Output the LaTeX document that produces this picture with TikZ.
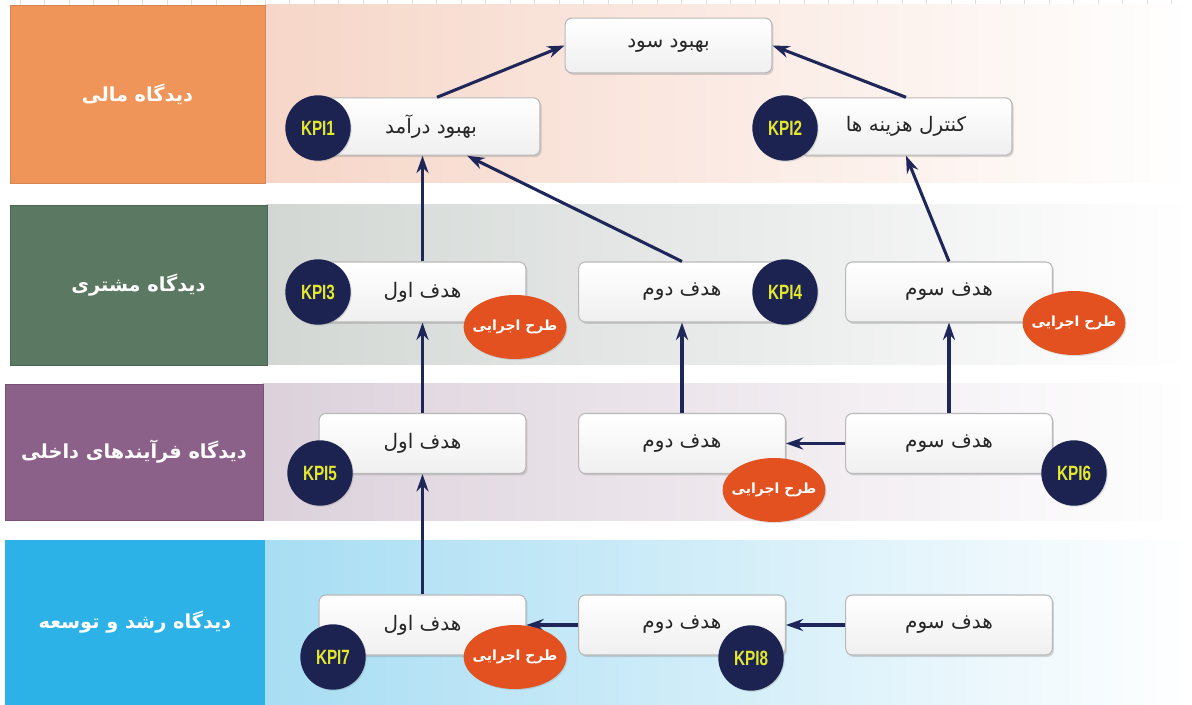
\documentclass[tikz,border=0pt]{standalone}
\usepackage{fontspec}
\usepackage{graphicx}
\usetikzlibrary{shadows,arrows.meta,shapes.geometric}
\TeXXeTstate=1
\setmainfont{Liberation Sans}
\newfontfamily\fa[Script=Arabic]{DejaVu Sans}
\newcommand{\fatxt}[1]{\beginR #1\endR}
\newcommand{\kpitxt}[1]{\scalebox{0.74}[1]{#1}}
\definecolor{navy}{HTML}{1C2351}
\definecolor{arrowc}{HTML}{1F275A}
\definecolor{kpiy}{HTML}{E4E82C}
\definecolor{planc}{HTML}{E2511F}
\definecolor{finL}{HTML}{F0955A}
\definecolor{finB}{HTML}{F6D6C8}
\definecolor{cusL}{HTML}{5B7862}
\definecolor{cusB}{HTML}{D2D7D4}
\definecolor{intL}{HTML}{8C6189}
\definecolor{intB}{HTML}{DCD1DB}
\definecolor{lrnL}{HTML}{2DB2E8}
\definecolor{lrnB}{HTML}{A7DDF3}
\tikzset{
  goal/.style={draw=gray!55, line width=0.8pt, rounded corners=5pt,
    top color=white, bottom color=gray!12, minimum width=155pt, minimum height=45pt,
    font=\fa\fontsize{15}{17}\selectfont, text=black!85,
    drop shadow={shadow xshift=1.2pt, shadow yshift=-1.5pt, opacity=0.3}},
  kpi/.style={circle, fill=navy, minimum size=49pt, inner sep=0pt, text=kpiy,
    font=\bfseries\fontsize{15.5}{15.5}\selectfont,
    drop shadow={shadow xshift=0.8pt, shadow yshift=-0.8pt, opacity=0.25}},
  plan/.style={ellipse, fill=planc, minimum width=77pt, minimum height=48pt,
    inner xsep=-12pt, inner ysep=0pt,
    text=white, font=\fa\bfseries\fontsize{10.5}{12}\selectfont,
    drop shadow={shadow xshift=0.8pt, shadow yshift=-0.8pt, opacity=0.25}},
  labbox/.style={rectangle, inner sep=0pt, text=white,
    font=\fa\bfseries\fontsize{14.5}{17}\selectfont},
  arr/.style={draw=arrowc, line width=2.3pt, -{Stealth[length=13pt,width=9pt]}}
}
\begin{document}
\begin{tikzpicture}[x=0.75pt, y=-0.75pt]
\useasboundingbox (0,0) rectangle (1192,705);
\fill[white] (0,0) rectangle (1192,705);
% faint grid ticks at top
\foreach \x in {20,44.5,...,1192} \draw[gray!25, line width=0.4pt] (\x,0) -- (\x,5);
% band backgrounds
\shade[left color=finB, right color=white] (265,5) rectangle (1192,183);
\shade[left color=cusB, right color=white] (266,205) rectangle (1192,365);
\shade[left color=intB, right color=white] (262,384) rectangle (1192,520);
\shade[left color=lrnB, right color=white] (264,540) rectangle (1192,705);
% perspective label boxes
\node[labbox, fill=finL, draw=finL!90!black, minimum width=191.25pt, minimum height=133.5pt] (Lfin) at (137.5,94) {\fatxt{دیدگاه مالی}};
\node[labbox, fill=cusL, draw=cusL!85!black, minimum width=192.75pt, minimum height=120pt] (Lcus) at (138.5,285) {\fatxt{دیدگاه مشتری}};
\node[labbox, fill=intL, draw=intL!85!black, minimum width=193.5pt, minimum height=102pt] (Lint) at (134,452) {\fatxt{دیدگاه فرآیندهای داخلی}};
\node[labbox, fill=lrnL, minimum width=195pt, minimum height=123.75pt] (Llrn) at (135,622.5) {\fatxt{دیدگاه رشد و توسعه}};
% goal boxes
\node[goal, minimum width=155pt, minimum height=41pt] (sood) at (668.5,45.5) {\fatxt{بهبود سود}};
\node[goal, minimum width=163.5pt, minimum height=43pt] (income) at (431,126.5) {\fatxt{بهبود درآمد}};
\node[goal, minimum width=159pt, minimum height=43pt] (cost) at (906,126.5) {\fatxt{کنترل هزینه ها}};
\node[goal] (c1) at (422.5,292) {\fatxt{هدف اول}};
\node[goal] (c2) at (682,292) {\fatxt{هدف دوم}};
\node[goal] (c3) at (949,292) {\fatxt{هدف سوم}};
\node[goal] (i1) at (422.5,443.5) {\fatxt{هدف اول}};
\node[goal] (i2) at (682,443.5) {\fatxt{هدف دوم}};
\node[goal] (i3) at (949,443.5) {\fatxt{هدف سوم}};
\node[goal] (l1) at (422.5,625) {\fatxt{هدف اول}};
\node[goal] (l2) at (682,625) {\fatxt{هدف دوم}};
\node[goal] (l3) at (949,625) {\fatxt{هدف سوم}};
% connectors
\draw[arr] ([xshift=4.5pt]income.north) -- (sood.west);
\draw[arr] (cost.north) -- (sood.east);
\draw[arr] (c1.north) -- (c1.north |- income.south);
\draw[arr] (c2.north) -- ([xshift=27pt]income.south);
\draw[arr] (c3.north) -- (cost.south);
\draw[arr] (i1.north) -- (c1.south);
\draw[arr] (i2.north) -- (c2.south);
\draw[arr] (i3.north) -- (c3.south);
\draw[arr] (i3.west) -- (i2.east);
\draw[arr] (l1.north) -- (i1.south);
\draw[arr] (l2.west) -- (l1.east);
\draw[arr] (l3.west) -- (l2.east);
% KPI circles
\node[kpi] (k1) at (318,128) {\kpitxt{KPI1}};
\node[kpi] (k2) at (785,128) {\kpitxt{KPI2}};
\node[kpi] (k3) at (318,292) {\kpitxt{KPI3}};
\node[kpi] (k4) at (785,292) {\kpitxt{KPI4}};
\node[kpi] (k5) at (320,473) {\kpitxt{KPI5}};
\node[kpi] (k6) at (1074,473) {\kpitxt{KPI6}};
\node[kpi] (k7) at (333,657) {\kpitxt{KPI7}};
\node[kpi] (k8) at (751,658) {\kpitxt{KPI8}};
% action plan ellipses
\node[plan] (p1) at (515,327) {\fatxt{طرح اجرایی}};
\node[plan] (p2) at (1074,323) {\fatxt{طرح اجرایی}};
\node[plan] (p3) at (774,490) {\fatxt{طرح اجرایی}};
\node[plan] (p4) at (515,657) {\fatxt{طرح اجرایی}};
\end{tikzpicture}
\end{document}
